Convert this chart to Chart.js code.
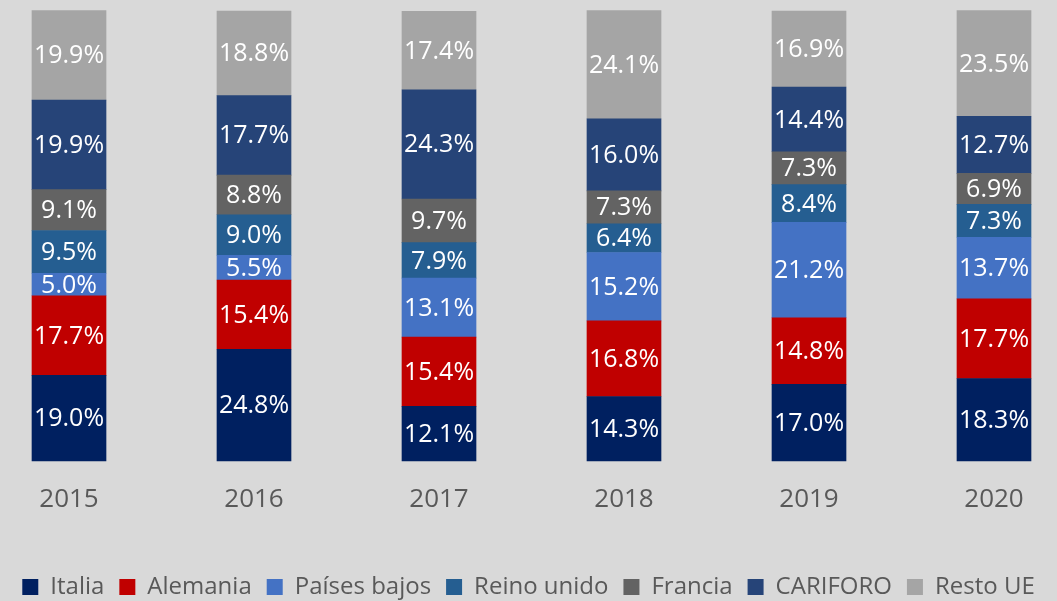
<!DOCTYPE html>
<html>
<head>
<meta charset="utf-8">
<script src="https://cdn.jsdelivr.net/npm/chart.js@4"></script>
<style>
  html, body { margin: 0; padding: 0; background: #d9d9d9; }
  .Chart { position: relative; width: 1057px; height: 601px; }
</style>
</head>
<body>
<div class="Chart"><canvas id="myChart"></canvas></div>
<script>
var years = ["2015", "2016", "2017", "2018", "2019", "2020"];

var italia = [19.0, 24.8, 12.1, 14.3, 17.0, 18.3];
var alemania = [17.7, 15.4, 15.4, 16.8, 14.8, 17.7];
var paisesBajos = [5.0, 5.5, 13.1, 15.2, 21.2, 13.7];
var reinoUnido = [9.5, 9.0, 7.9, 6.4, 8.4, 7.3];
var francia = [9.1, 8.8, 9.7, 7.3, 7.3, 6.9];
var cariforo = [19.9, 17.7, 24.3, 16.0, 14.4, 12.7];
var restoUE = [19.9, 18.8, 17.4, 24.1, 16.9, 23.5];

var FONT = "'Open Sans', 'Liberation Sans', sans-serif";

function serie(label, data, color) {
  return {
    label: label,
    data: data,
    backgroundColor: color,
    borderWidth: 0,
    barThickness: 74,
    clip: false,
  };
}

// white % labels in the middle of each segment
const barLabels = {
  id: "barLabels",
  afterDatasetsDraw(chart) {
    const ctx = chart.ctx;
    ctx.save();
    ctx.font = "25px " + FONT;
    ctx.fillStyle = "#ffffff";
    ctx.textAlign = "center";
    ctx.textBaseline = "middle";
    chart.data.datasets.forEach((ds, i) => {
      chart.getDatasetMeta(i).data.forEach((bar, j) => {
        ctx.fillText(ds.data[j].toFixed(1) + "%", bar.x, (bar.y + bar.base) / 2 + 1);
      });
    });
    ctx.restore();
  },
};

// invisible side axes, only used to reserve space left/right of the bars
function spacer(pos, w) {
  return {
    position: pos,
    display: true,
    grid: { display: false },
    border: { display: false },
    ticks: { display: false },
    afterFit: function (scale) { scale.width = w; },
  };
}

var ctx = document.getElementById("myChart").getContext("2d");

new Chart(ctx, {
  type: "bar",
  data: {
    labels: years,
    datasets: [
      serie("Italia", italia, "#002060"),
      serie("Alemania", alemania, "#c00000"),
      serie("Países bajos", paisesBajos, "#4472c4"),
      serie("Reino unido", reinoUnido, "#255e91"),
      serie("Francia", francia, "#636363"),
      serie("CARIFORO", cariforo, "#264478"),
      serie("Resto UE", restoUE, "#a5a5a5"),
    ],
  },
  options: {
    responsive: true,
    maintainAspectRatio: false,
    animation: false,
    layout: {
      padding: { top: 11, left: 0, right: 0, bottom: -8 },
    },
    plugins: {
      tooltip: { enabled: false },
      legend: {
        position: "bottom",
        labels: {
          color: "#595959",
          font: { family: FONT, size: 24 },
          boxWidth: 16,
          boxHeight: 16,
          padding: 15,
        },
      },
    },
    scales: {
      x: {
        stacked: true,
        offset: false,
        grid: { display: false },
        border: { display: false },
        ticks: {
          color: "#595959",
          font: { family: FONT, size: 26 },
          padding: 15,
        },
        afterFit: function (scale) { scale.height += 30; },
      },
      y: Object.assign(spacer("left", 69), {
        stacked: true,
        min: 0,
        max: 100,
      }),
      yRight: Object.assign(spacer("right", 63), { min: 0, max: 100 }),
    },
  },
  plugins: [barLabels],
});
</script>
</body>
</html>
